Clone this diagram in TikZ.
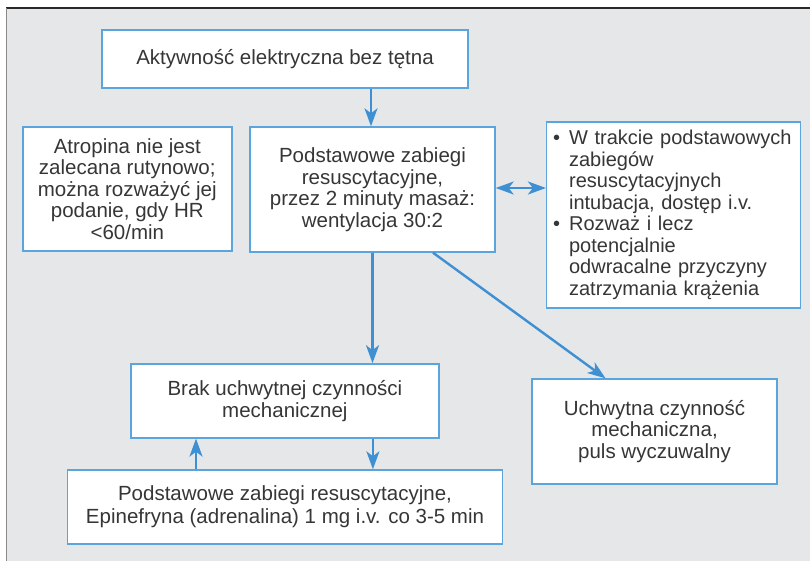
\documentclass[tikz,border=0pt]{standalone}
\usepackage{fontspec}
\setmainfont{Liberation Sans}
\usetikzlibrary{arrows.meta}
\definecolor{panel}{HTML}{E6E7E9}
\definecolor{boxblue}{HTML}{5BA4DC}
\definecolor{arrblue}{HTML}{3E90D3}
\definecolor{txt}{HTML}{363636}
\definecolor{topline}{HTML}{2A2A2A}
\definecolor{leftline}{HTML}{8A8A8A}
\newcommand{\bitem}[1]{\mbox{\makebox[16pt][l]{•}#1}}
\newcommand{\bcont}[1]{\mbox{\hspace*{16pt}#1}}
\begin{document}
\begin{tikzpicture}[x=1pt,y=-1pt,
  box/.style={draw=boxblue, line width=1.4pt, fill=white, inner sep=0pt,
    align=center, text=txt, font=\fontsize{20.5}{21.5}\selectfont},
  arr/.style={draw=arrblue, line width=2.4pt,
    -{Stealth[length=18pt,width=13pt,inset=5pt]}},
  darr/.style={draw=arrblue, line width=2.4pt,
    {Stealth[length=18pt,width=13pt,inset=5pt]}-{Stealth[length=18pt,width=13pt,inset=5pt]}},
]
\useasboundingbox (0,0) rectangle (810,560);
\fill[panel] (6.5,8) rectangle (812,562);
\draw[topline, line width=1.2pt] (6,8) -- (812,8);
\draw[leftline, line width=1.5pt] (6.5,8) -- (6.5,562);

\node[box, minimum width=366pt, minimum height=58pt] (A) at (285,59)
  {Aktywność elektryczna bez tętna};
\node[box, minimum width=245pt, minimum height=125pt] (B) at (372.5,189.5)
  {Podstawowe zabiegi\\resuscytacyjne,\\przez 2 minuty masaż:\\wentylacja 30:2};
\node[box, minimum width=209pt, minimum height=124pt] (L) at (127.3,188.8)
  {Atropina nie jest\\zalecana rutynowo;\\można rozważyć jej\\podanie, gdy HR\\<60/min};
\node[box, align=left, text width=241pt, inner xsep=6.5pt, minimum height=186pt,
  font=\fontsize{20}{21.5}\selectfont] (R) at (673.6,215)
  {\bitem{W trakcie podstawowych}\\
   \bcont{zabiegów}\\
   \bcont{resuscytacyjnych}\\
   \bcont{intubacja, dostęp i.v.}\\
   \bitem{Rozważ i lecz}\\
   \bcont{potencjalnie}\\
   \bcont{odwracalne przyczyny}\\
   \bcont{zatrzymania krążenia}};
\node[box, minimum width=308pt, minimum height=74pt] (C) at (284.9,400.9)
  {Brak uchwytnej czynności\\mechanicznej};
\node[box, minimum width=435pt, minimum height=74pt, font=\fontsize{20.5}{23}\selectfont] (E) at (285,507)
  {Podstawowe zabiegi resuscytacyjne,\\Epinefryna (adrenalina) 1 mg i.v. co 3-5 min};
\node[box, minimum width=245pt, minimum height=105pt] (D) at (654.5,431.5)
  {Uchwytna czynność\\mechaniczna,\\puls wyczuwalny};

\coordinate (a1) at ([xshift=86pt]A.south);
\draw[arr] (a1) -- (a1 |- B.north);
\coordinate (b1) at ([yshift=1.5pt]B.east);
\draw[darr] (b1) -- (R.west |- b1);
\draw[arr] (B.south) -- (B.south |- C.north);
\coordinate (b2) at ([xshift=60.5pt]B.south);
\coordinate (d1) at ([xshift=-49pt]D.north);
\draw[arr] (b2) -- (d1);
\coordinate (c1) at ([xshift=88pt]C.south);
\draw[arr] (c1) -- (c1 |- E.north);
\coordinate (e1) at ([xshift=-89pt]E.north);
\draw[arr] (e1) -- (e1 |- C.south);
\end{tikzpicture}
\end{document}
